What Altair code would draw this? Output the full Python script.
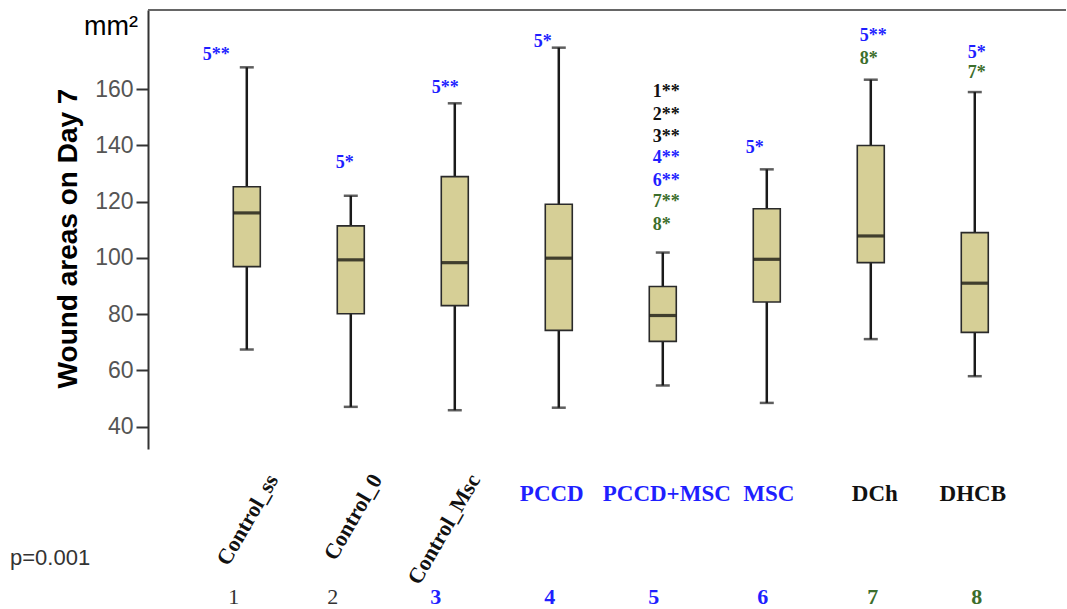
import altair as alt
import pandas as pd

# Treatment groups and their box-plot summaries (wound area on day 7, mm²)
groups = ["Control_ss", "Control_0", "Control_Msc", "PCCD", "PCCD+MSC", "MSC", "DCh", "DHCB"]
group_ids = ["1", "2", "3", "4", "5", "6", "7", "8"]
whisker_low = [67.4, 47.0, 45.8, 46.7, 54.6, 48.4, 71.1, 57.9]
q1 = [96.9, 80.1, 83.0, 74.2, 70.3, 84.3, 98.3, 73.5]
median = [116.0, 99.3, 98.3, 99.9, 79.5, 99.5, 107.8, 91.0]
q3 = [125.3, 111.4, 128.9, 119.1, 89.8, 117.5, 140.0, 109.0]
whisker_high = [167.8, 122.1, 155.0, 174.8, 101.9, 131.5, 163.4, 159.0]

# Significance markers drawn above the boxes
sig_group = ["Control_ss", "Control_0", "Control_Msc", "PCCD",
             "PCCD+MSC", "PCCD+MSC", "PCCD+MSC", "PCCD+MSC", "PCCD+MSC", "PCCD+MSC", "PCCD+MSC",
             "MSC", "DCh", "DCh", "DHCB", "DHCB"]
sig_text = ["5**", "5*", "5**", "5*",
            "1**", "2**", "3**", "4**", "6**", "7**", "8*",
            "5*", "5**", "8*", "5*", "7*"]
sig_level = [172.1, 133.7, 160.4, 176.8,
             159.0, 150.7, 143.1, 135.4, 127.5, 119.8, 111.7,
             139.1, 178.8, 170.6, 172.8, 165.7]

BLUE = "#1f1fff"
GREEN = "#3c6e2c"
BLACK = "#111111"
TAN = "#d6cf96"

sig_color = [BLUE, BLUE, BLUE, BLUE,
             BLACK, BLACK, BLACK, BLUE, BLUE, GREEN, GREEN,
             BLUE, BLUE, GREEN, BLUE, GREEN]
# horizontal nudges (px) of the text relative to the group's centre
sig_shift = [-44, -15, -23, -25,
             -10, -10, -10, -10, -10, -10, -10,
             -21, -11, -11, -7, -7]

name_color = [BLACK, BLACK, BLACK, BLUE, BLUE, BLUE, BLACK, BLACK]
name_rotated = [True, True, True, False, False, False, False, False]
name_shift = [26, 26, 20, -7, 4, 2, 4, -2]

id_color = ["#333333", "#333333", BLUE, BLUE, BLUE, BLUE, GREEN, GREEN]
id_bold = [False, False, True, True, True, True, True, True]
id_shift = [-13, -18, -19, -9, -9, -4, 2, 2]

W, H = 918, 439
N = len(groups)
PAD_OUTER = 0.4135
STEP = W / (N + 2 * PAD_OUTER)
HALF = STEP / 2  # text offsets are measured from the band's start
SERIF = "Liberation Serif"
SANS = "Liberation Sans"

box_df = pd.DataFrame({"group": groups, "low": whisker_low, "q1": q1,
                       "median": median, "q3": q3, "high": whisker_high})
sig_df = pd.DataFrame({"group": sig_group, "label": sig_text, "level": sig_level,
                       "color": sig_color, "off": [s + HALF for s in sig_shift]})
name_df = pd.DataFrame({"group": groups, "label": groups, "color": name_color,
                        "rotated": name_rotated, "off": [s + HALF for s in name_shift]})
id_df = pd.DataFrame({"group": groups, "label": group_ids, "color": id_color,
                      "bold": id_bold, "off": [s + HALF for s in id_shift]})

x_scale = alt.Scale(domain=groups, paddingInner=0, paddingOuter=PAD_OUTER, align=0.544)


def x_enc(axis=False):
    if axis:
        return alt.X("group:N", sort=groups, scale=x_scale, title=None,
                     axis=alt.Axis(labels=False, ticks=True, tickSize=7, tickWidth=2,
                                   tickColor="#333", domainColor="#333", domainWidth=2,
                                   grid=False))
    return alt.X("group:N", sort=groups, scale=x_scale, axis=None)


y_scale = alt.Scale(domain=[32.0, 188.2], nice=False, zero=False)
y_axis = alt.Axis(values=[40, 60, 80, 100, 120, 140, 160], grid=False,
                  title="Wound areas on Day 7", titleFont=SANS, titleFontSize=28,
                  titleFontWeight="bold", titleColor="black", titlePadding=12, titleY=228,
                  labelFont=SANS, labelFontSize=23, labelColor="#555", labelPadding=3,
                  tickSize=12, tickWidth=2, tickColor="#333", domainColor="#333",
                  domainWidth=2)

base = alt.Chart(box_df)

whisker_lo = base.mark_rule(color="#1a1a1a", strokeWidth=2.5).encode(
    x=x_enc(axis=True), y=alt.Y("low:Q", scale=y_scale, axis=y_axis), y2="q1:Q")
whisker_hi = base.mark_rule(color="#1a1a1a", strokeWidth=2.5).encode(
    x=x_enc(), y=alt.Y("q3:Q"), y2="high:Q")
cap_lo = base.mark_tick(size=14, thickness=2.5, color="#1a1a1a").encode(x=x_enc(), y="low:Q")
cap_hi = base.mark_tick(size=14, thickness=2.5, color="#1a1a1a").encode(x=x_enc(), y="high:Q")
boxes = base.mark_bar(size=27, fill=TAN, stroke="#2a2a2a", strokeWidth=1.6).encode(
    x=x_enc(), y="q1:Q", y2="q3:Q")
medians = base.mark_tick(size=26, thickness=3.2, color="black").encode(x=x_enc(), y="median:Q")

off = alt.XOffset("off:Q", scale=None)

sig = alt.Chart(sig_df).mark_text(font=SERIF, fontWeight="bold", fontSize=18,
                                  align="left", baseline="middle").encode(
    x=x_enc(), xOffset=off, y="level:Q",
    text="label:N", color=alt.Color("color:N", scale=None))

names_rot = alt.Chart(name_df).transform_filter("datum.rotated").mark_text(
    font=SERIF, fontWeight="bold", fontSize=22, align="right", baseline="middle",
    angle=300).encode(
    x=x_enc(), xOffset=off, y=alt.value(466),
    text="label:N", color=alt.Color("color:N", scale=None))

names_flat = alt.Chart(name_df).transform_filter("!datum.rotated").mark_text(
    font=SERIF, fontWeight="bold", fontSize=23, align="center", baseline="middle").encode(
    x=x_enc(), xOffset=off, y=alt.value(484),
    text="label:N", color=alt.Color("color:N", scale=None))

ids_bold = alt.Chart(id_df).transform_filter("datum.bold").mark_text(
    font=SERIF, fontWeight="bold", fontSize=22, align="center", baseline="middle").encode(
    x=x_enc(), xOffset=off, y=alt.value(587),
    text="label:N", color=alt.Color("color:N", scale=None))

ids_plain = alt.Chart(id_df).transform_filter("!datum.bold").mark_text(
    font=SERIF, fontSize=22, align="center", baseline="middle").encode(
    x=x_enc(), xOffset=off, y=alt.value(587),
    text="label:N", color=alt.Color("color:N", scale=None))

frame_top = alt.Chart(pd.DataFrame({"k": [0]})).mark_rule(color="#666", strokeWidth=2).encode(
    x=alt.value(0), x2=alt.value(W), y=alt.value(0))

unit = alt.Chart(pd.DataFrame({"t": ["mm²"]})).mark_text(
    font=SANS, fontSize=27, align="right", baseline="middle", color="black").encode(
    text="t:N", x=alt.value(-10), y=alt.value(17))

pval = alt.Chart(pd.DataFrame({"t": ["p=0.001"]})).mark_text(
    font=SANS, fontSize=22, align="left", baseline="middle", color="#333").encode(
    text="t:N", x=alt.value(-138), y=alt.value(548))

chart = alt.layer(
    whisker_lo, whisker_hi, cap_lo, cap_hi, boxes, medians, sig,
    names_rot, names_flat, ids_bold, ids_plain, frame_top, unit, pval
).properties(
    width=W, height=H,
    autosize=alt.AutoSizeParams(type="none"),
    padding={"left": 148, "top": 10, "right": 1, "bottom": 160},
    background="white",
).configure_view(stroke=None)

chart.save("out.html", embed_options={"renderer": "svg", "actions": False})
